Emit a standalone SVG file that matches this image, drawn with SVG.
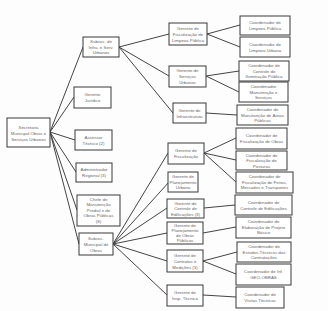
<svg xmlns="http://www.w3.org/2000/svg" width="328" height="311" viewBox="0 0 328 311">
<style>
rect.b{fill:#fff;stroke:#383838;stroke-width:1}
text{font-family:"Liberation Sans",Arial,sans-serif;font-size:4.4px;fill:#666;text-anchor:middle}
#conn line{stroke:#444;stroke-width:1}
</style>
<rect width="328" height="311" fill="#fdfdfd"/>
<g id="conn">
<line x1="50" y1="132" x2="83" y2="47"/>
<line x1="50" y1="132" x2="74" y2="97"/>
<line x1="50" y1="132" x2="75" y2="140"/>
<line x1="50" y1="132" x2="76" y2="172"/>
<line x1="50" y1="132" x2="77" y2="210"/>
<line x1="50" y1="132" x2="79" y2="244"/>
<line x1="119" y1="47" x2="169" y2="34"/>
<line x1="119" y1="47" x2="169" y2="76"/>
<line x1="119" y1="47" x2="173" y2="113"/>
<line x1="207" y1="34" x2="240" y2="25"/>
<line x1="207" y1="34" x2="240" y2="47"/>
<line x1="206" y1="76" x2="239" y2="71"/>
<line x1="206" y1="76" x2="239" y2="92"/>
<line x1="206" y1="113" x2="237" y2="115"/>
<line x1="113" y1="244" x2="168" y2="153"/>
<line x1="113" y1="244" x2="169" y2="182"/>
<line x1="113" y1="244" x2="167" y2="208"/>
<line x1="113" y1="244" x2="167" y2="233"/>
<line x1="113" y1="244" x2="167" y2="261"/>
<line x1="113" y1="244" x2="167" y2="295"/>
<line x1="204" y1="153" x2="236" y2="138"/>
<line x1="204" y1="153" x2="236" y2="160"/>
<line x1="204" y1="153" x2="236" y2="182"/>
<line x1="204" y1="208" x2="235" y2="205"/>
<line x1="203" y1="233" x2="236" y2="227"/>
<line x1="203" y1="261" x2="237" y2="252"/>
<line x1="203" y1="261" x2="236" y2="274"/>
<line x1="203" y1="295" x2="236" y2="297"/>
</g>
<g id="root"><rect class="b" x="7" y="118" width="43" height="29"/><text x="28.5" y="128.5">Secretaria</text><text x="28.5" y="134.5">Municipal Obras e</text><text x="28.5" y="140.5">Serviços Urbanos</text></g>
<g id="subsec-infra"><rect class="b" x="83" y="37" width="36" height="20"/><text x="101" y="43">Subsec. de</text><text x="101" y="48.5">Infra. e Serv.</text><text x="101" y="54">Urbanos</text></g>
<g id="ger-juridico"><rect class="b" x="74" y="87" width="37" height="21"/><text x="92.5" y="96">Gerente</text><text x="92.5" y="102">Jurídico</text></g>
<g id="assessor"><rect class="b" x="75" y="130" width="37" height="20"/><text x="93.5" y="138.5">Assessor</text><text x="93.5" y="144.5">Técnico (2)</text></g>
<g id="admin"><rect class="b" x="76" y="163" width="36" height="19"/><text x="94" y="171">Administrador</text><text x="94" y="177">Regional (3)</text></g>
<g id="chefe"><rect class="b" x="77" y="195" width="43" height="31"/><text x="98.5" y="200.5">Chefe de</text><text x="98.5" y="206">Manutenção</text><text x="98.5" y="211.5">Predial e de</text><text x="98.5" y="217">Obras Públicas</text><text x="98.5" y="222.5">(8)</text></g>
<g id="subsec-obras"><rect class="b" x="79" y="233" width="34" height="22"/><text x="96" y="239.5">Subsec.</text><text x="96" y="245.5">Municipal de</text><text x="96" y="251.5">Obras</text></g>
<g id="g-fisc-limpeza"><rect class="b" x="169" y="23" width="38" height="22"/><text x="188" y="29.5">Gerente de</text><text x="188" y="35.5">Fiscalização de</text><text x="188" y="41.5">Limpeza Pública</text></g>
<g id="g-serv-urbanos"><rect class="b" x="169" y="66" width="37" height="21"/><text x="187.5" y="72">Gerente de</text><text x="187.5" y="78">Serviços</text><text x="187.5" y="84">Urbanos</text></g>
<g id="g-infra"><rect class="b" x="173" y="103" width="33" height="20"/><text x="189.5" y="111.5">Gerente de</text><text x="189.5" y="117.5">Infraestrutura</text></g>
<g id="g-fisc"><rect class="b" x="168" y="143" width="36" height="21"/><text x="186" y="152">Gerente de</text><text x="186" y="158">Fiscalização</text></g>
<g id="g-planej-urbano"><rect class="b" x="168" y="172" width="30" height="20"/><text x="183" y="178">Gerente de</text><text x="183" y="183.5">Planejamento</text><text x="183" y="189">Urbano</text></g>
<g id="g-controle-edif"><rect class="b" x="167" y="199" width="37" height="19"/><text x="185.5" y="204.5">Gerente de</text><text x="185.5" y="210">Controle de</text><text x="185.5" y="215.5">Edificações (3)</text></g>
<g id="g-planej-obras"><rect class="b" x="167" y="222" width="36" height="22"/><text x="185" y="227">Gerente de</text><text x="185" y="232">Planejamento</text><text x="185" y="237">de Obras</text><text x="185" y="242">Públicas</text></g>
<g id="g-contratos"><rect class="b" x="167" y="250" width="36" height="22"/><text x="185" y="256.5">Gerente de</text><text x="185" y="262.5">Contratos e</text><text x="185" y="268.5">Medições (3)</text></g>
<g id="g-insp"><rect class="b" x="167" y="285" width="36" height="21"/><text x="185" y="294">Gerente de</text><text x="185" y="300">Insp. Técnica</text></g>
<g id="c1"><rect class="b" x="240" y="16" width="50" height="19"/><text x="265" y="24">Coordenador de</text><text x="265" y="30">Limpeza Pública</text></g>
<g id="c2"><rect class="b" x="240" y="37" width="50" height="20"/><text x="265" y="45.5">Coordenador de</text><text x="265" y="51.5">Limpeza Urbana</text></g>
<g id="c3"><rect class="b" x="239" y="61" width="50" height="20"/><text x="264" y="67">Coordenador de</text><text x="264" y="72.5">Controle de</text><text x="264" y="78">Iluminação Pública</text></g>
<g id="c4"><rect class="b" x="239" y="82" width="49" height="20"/><text x="263.5" y="88">Coordenador</text><text x="263.5" y="93.5">Manutenção e</text><text x="263.5" y="99">Serviços</text></g>
<g id="c5"><rect class="b" x="237" y="105" width="51" height="20"/><text x="262.5" y="111">Coordenador de</text><text x="262.5" y="116.5">Manutenção de Áreas</text><text x="262.5" y="122">Públicas</text></g>
<g id="c6"><rect class="b" x="236" y="128" width="51" height="21"/><text x="261.5" y="137">Coordenador de</text><text x="261.5" y="143">Fiscalização de Obras</text></g>
<g id="c7"><rect class="b" x="236" y="151" width="51" height="19"/><text x="261.5" y="156.5">Coordenador de</text><text x="261.5" y="162">Fiscalização de</text><text x="261.5" y="167.5">Posturas</text></g>
<g id="c8"><rect class="b" x="236" y="172" width="57" height="21"/><text x="264.5" y="178">Coordenador de</text><text x="264.5" y="183.5">Fiscalização de Feiras,</text><text x="264.5" y="189">Mercados e Transportes</text></g>
<g id="c9"><rect class="b" x="235" y="195" width="57" height="20"/><text x="263.5" y="203.5">Coordenador de</text><text x="263.5" y="209.5">Controle de Edificações</text></g>
<g id="c10"><rect class="b" x="236" y="217" width="55" height="21"/><text x="263.5" y="223">Coordenador de</text><text x="263.5" y="228.5">Elaboração de Projeto</text><text x="263.5" y="234">Básico</text></g>
<g id="c11"><rect class="b" x="237" y="242" width="54" height="20"/><text x="264" y="248">Coordenador de</text><text x="264" y="253.5">Estudos Técnicos das</text><text x="264" y="259">Contratações</text></g>
<g id="c12"><rect class="b" x="236" y="264" width="55" height="21"/><text x="263.5" y="273">Coordenador de Inf.</text><text x="263.5" y="279">GEO-OBRAS</text></g>
<g id="c13"><rect class="b" x="236" y="287" width="48" height="21"/><text x="260" y="296">Coordenador de</text><text x="260" y="302">Visitas Técnicas</text></g>
</svg>
